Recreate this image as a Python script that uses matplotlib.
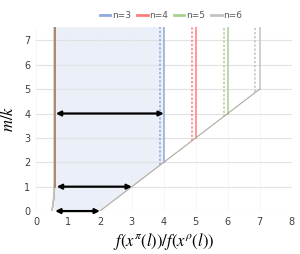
import numpy as np
import matplotlib
matplotlib.use("Agg")
import matplotlib.pyplot as plt

plt.rcParams['mathtext.fontset'] = 'stix'

# series per n
ns = [3, 4, 5, 6]
colors = ['#8eaadb', '#ff7f7f', '#a9d18e', '#c3c3c3']
y_top = 7.55

# right branch: vertical line at x = n+1 above the diagonal y = x - 2
diag_x = [2.0, 7.0]
diag_y = [0.0, 5.0]
solid_x = [4.0, 5.0, 6.0, 7.0]
dashed_x = [3.87, 4.87, 5.87, 6.87]

# left branch near x ~ 0.55
left_y = [0.0, 0.2, 0.5, 0.9, 1.2, y_top]
left_x = [
    [0.50, 0.53, 0.56, 0.58, 0.585, 0.585],
    [0.50, 0.525, 0.555, 0.575, 0.58, 0.58],
    [0.50, 0.52, 0.55, 0.57, 0.575, 0.575],
    [0.50, 0.515, 0.545, 0.565, 0.57, 0.57],
]

# arrows (y, x_from, x_to)
arrows = [(0, 0.6, 2.0), (1, 0.65, 3.0), (4, 0.62, 4.0)]

fig = plt.figure(figsize=(3.0, 2.54), dpi=100)
ax = fig.add_axes([0.12, 0.169, 0.852, 0.725])

# shaded region
ax.fill([0.58, 2.0, 4.0, 4.0, 0.58], [0, 0, 2.0, y_top, y_top],
        color='#eaeff8', zorder=0, lw=0)

for n, c, sx, dx, lx in zip(ns, colors, solid_x, dashed_x, left_x):
    ax.plot([sx, sx], [sx - 2, y_top], color=c, lw=1.1, zorder=2,
            label='n=%d' % n)
    ax.plot([dx, dx], [dx - 2, y_top], color=c, lw=1.1, ls=(0, (1.5, 1.2)),
            zorder=2)
    ax.plot(lx, left_y, color=c, lw=0.9, zorder=2)

# brownish overlap look of the left lines and the diagonal
ax.plot([0.58, 0.58], [1.0, y_top], color='#a9826a', lw=1.3, zorder=3)
ax.plot(diag_x, diag_y, color='#b0a89f', lw=0.8, zorder=3)

for y, x0, x1 in arrows:
    ax.annotate('', xy=(x1, y), xytext=(x0, y),
                arrowprops=dict(arrowstyle='<|-|>', color='black', lw=1.6,
                                mutation_scale=7, shrinkA=0, shrinkB=0),
                zorder=5)

ax.set_xlim(0, 8)
ax.set_ylim(0, y_top)
ax.set_xticks(range(0, 9))
ax.set_yticks(range(0, 8))
ax.grid(axis='y', color='#e2e2e2', lw=0.8)
ax.grid(axis='x', color='#ececec', lw=0.6, ls=(0, (1, 1)))
ax.set_axisbelow(True)
for s in ax.spines.values():
    s.set_visible(False)
ax.tick_params(length=0, labelsize=7, colors='#404040', pad=4)

ax.set_xlabel(r'$f(x^{\pi}(l))/f(x^{\rho}(l))$', fontsize=12, labelpad=3)
ax.set_ylabel(r'$m/k$', fontsize=12, labelpad=5)

leg = fig.legend(loc='center', bbox_to_anchor=(0.57, 0.94), ncol=4,
                 frameon=False, fontsize=6.5, handlelength=1.2,
                 handletextpad=0.2, columnspacing=0.6)
for t in leg.get_texts():
    t.set_color('#595959')
for h in leg.get_lines():
    h.set_linewidth(2.0)

fig.savefig('out.png', dpi=100)
